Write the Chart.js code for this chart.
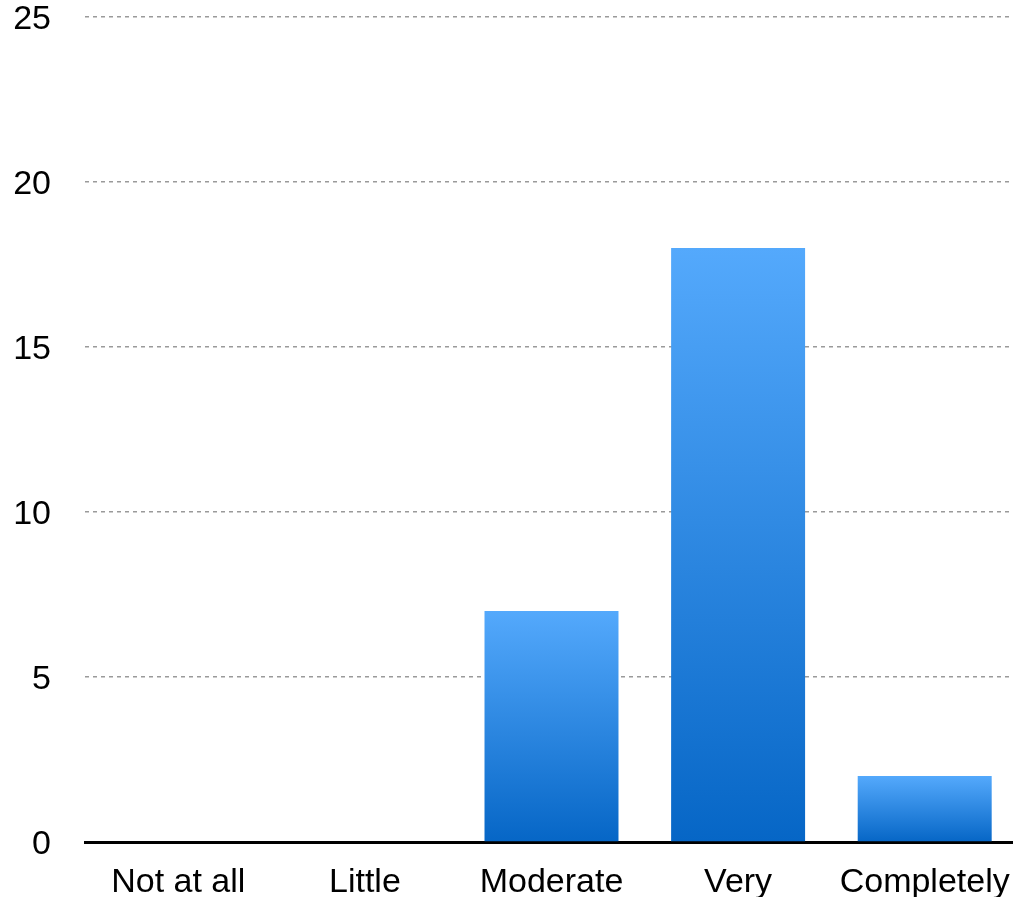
<!DOCTYPE html>
<html lang="en">
<head>
    <meta charset="UTF-8">
    <title>Chart</title>
    <script src="https://cdn.jsdelivr.net/npm/chart.js@4/dist/chart.umd.min.js"></script>
    <style>
        html, body { margin: 0; padding: 0; background: #fff; overflow: hidden; }
        .caixa { position: relative; width: 1018px; height: 897px; }
    </style>
</head>
<body>
    <div class="caixa">
        <canvas id="grafico"></canvas>
    </div>

<script>
    const categorias = ['Not at all', 'Little', 'Moderate', 'Very', 'Completely'];
    const valores = [0, 0, 7, 18, 2];
    const ticksY = [0, 5, 10, 15, 20, 25];

    function gradienteBarra(context) {
        const chart = context.chart;
        const area = chart.chartArea;
        if (!area) return '#3b8fe6';
        const y = chart.scales.y;
        const valor = context.raw;
        const topo = y.getPixelForValue(valor);
        const base = y.getPixelForValue(0);
        if (base - topo < 1) return '#3b8fe6';
        const g = chart.ctx.createLinearGradient(0, topo, 0, base);
        g.addColorStop(0, 'rgb(84,169,252)');
        g.addColorStop(1, 'rgb(6,102,198)');
        return g;
    }

    const fonte = { family: 'Liberation Sans, Arial, Helvetica, sans-serif', size: 34 };

    new Chart(document.getElementById('grafico'), {
        type: 'bar',
        data: {
            labels: categorias,
            datasets: [{
                data: valores,
                backgroundColor: gradienteBarra,
                borderWidth: 0,
                categoryPercentage: 1,
                barPercentage: 0.718
            }]
        },
        options: {
            responsive: true,
            maintainAspectRatio: false,
            animation: false,
            layout: { padding: { top: 17, left: 0, right: 0, bottom: 0 } },
            plugins: { legend: { display: false }, tooltip: { enabled: false } },
            scales: {
                x: {
                    grid: { display: false, drawTicks: false },
                    border: { display: true, color: '#000', width: 3 },
                    ticks: { color: '#000', font: fonte, padding: 20, maxRotation: 0, autoSkip: false },
                    afterFit: function (scale) {
                        scale.height = 55;
                        scale.paddingLeft = 0;
                        scale.paddingRight = 0;
                    }
                },
                y: {
                    min: 0,
                    max: 25,
                    afterBuildTicks: function (scale) {
                        scale.ticks = ticksY.map(v => ({ value: v }));
                    },
                    afterFit: function (scale) {
                        scale.width = 85;
                        scale.paddingTop = 0;
                        scale.paddingBottom = 0;
                    },
                    grid: {
                        drawTicks: false,
                        color: ctx => ctx.tick && ctx.tick.value === 0 ? 'rgba(0,0,0,0)' : '#9a9a9a',
                        lineWidth: 1.5
                    },
                    border: { display: false, dash: [4, 4] },
                    ticks: { color: '#000', font: fonte, padding: 34, labelOffset: 3 }
                }
            }
        }
    });
</script>
</body>
</html>
